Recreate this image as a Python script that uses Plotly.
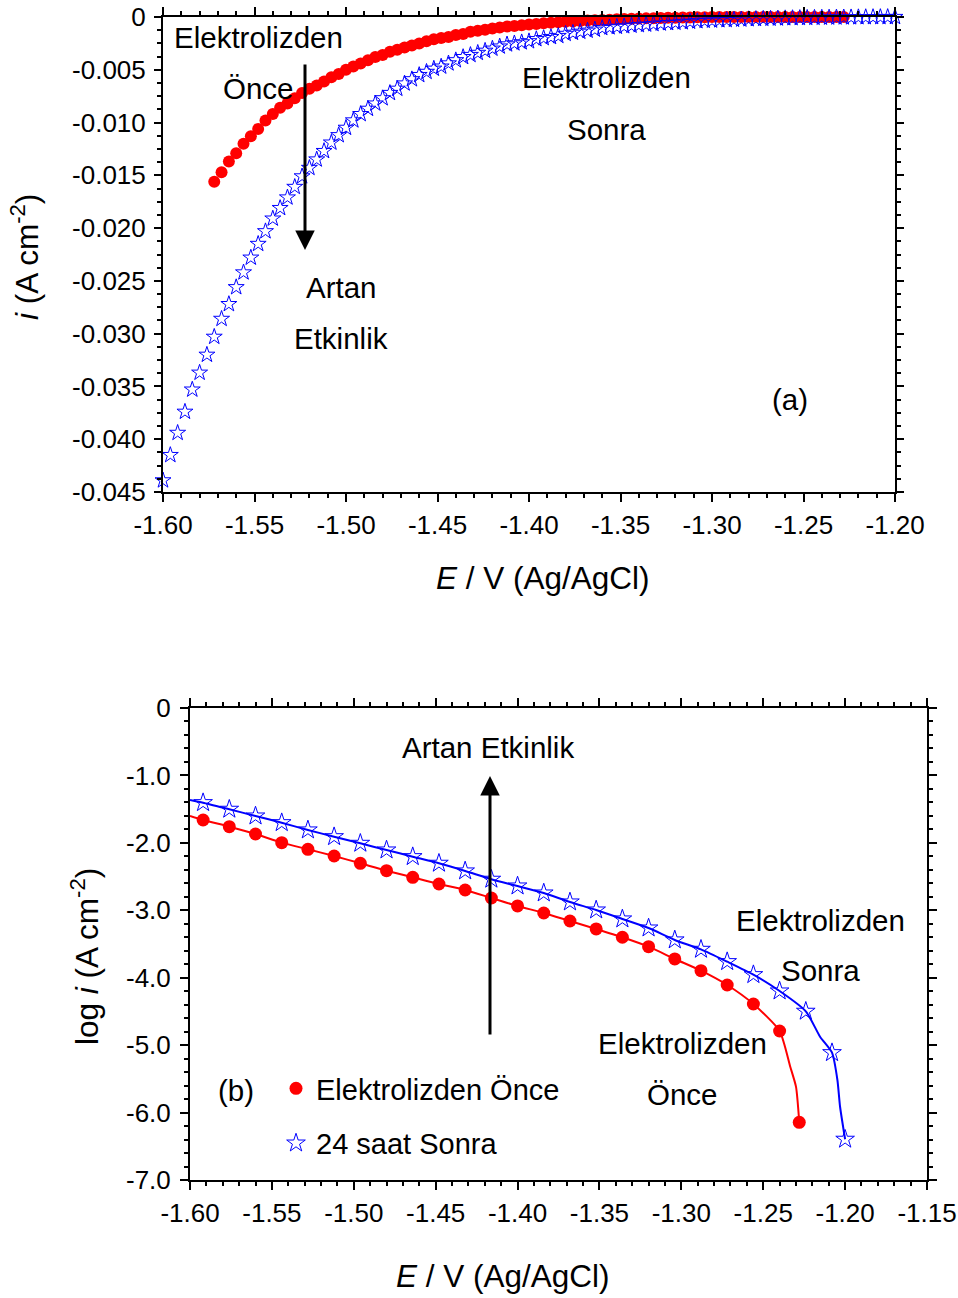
import plotly.graph_objects as go

# ---------------- DATA ----------------
# (a) current density vs potential (A cm^-2)
BLUE_E = [-1.600, -1.596, -1.592, -1.588, -1.584, -1.580, -1.576, -1.572, -1.568, -1.564,
          -1.560, -1.556, -1.552, -1.548, -1.544, -1.540, -1.536, -1.532, -1.528, -1.524,
          -1.520, -1.516, -1.512, -1.508, -1.504, -1.500, -1.496, -1.492, -1.488, -1.484,
          -1.480, -1.476, -1.472, -1.468, -1.464, -1.460, -1.456, -1.452, -1.448, -1.444,
          -1.440, -1.436, -1.432, -1.428, -1.424, -1.420, -1.416, -1.412, -1.408, -1.404,
          -1.400, -1.396, -1.392, -1.388, -1.384, -1.380, -1.376, -1.372, -1.368, -1.364,
          -1.360, -1.356, -1.352, -1.348, -1.344, -1.340, -1.336, -1.332, -1.328, -1.324,
          -1.320, -1.316, -1.312, -1.308, -1.304, -1.300, -1.296, -1.292, -1.288, -1.284,
          -1.280, -1.276, -1.272, -1.268, -1.264, -1.260, -1.256, -1.252, -1.248, -1.244,
          -1.240, -1.236, -1.232, -1.228, -1.224, -1.220, -1.216, -1.212, -1.208, -1.204,
          -1.200]
BLUE_I = [-0.0439, -0.0415, -0.0394, -0.0374, -0.0353, -0.0337, -0.0320, -0.0303, -0.0286, -0.0272,
          -0.0256, -0.0242, -0.0228, -0.0215, -0.0203, -0.0191, -0.0181, -0.0171, -0.0161, -0.0151,
          -0.0143, -0.0135, -0.0127, -0.0119, -0.0112, -0.0105, -0.0098, -0.0092, -0.0087, -0.0082,
          -0.0077, -0.0072, -0.0068, -0.0063, -0.0059, -0.0055, -0.0052, -0.0049, -0.0047, -0.0044,
          -0.0041, -0.0038, -0.0036, -0.0034, -0.0032, -0.0030, -0.0028, -0.0026, -0.0025, -0.0024,
          -0.0023, -0.0021, -0.0020, -0.0019, -0.0018, -0.0016, -0.0015, -0.0014, -0.0013, -0.0012,
          -0.00105, -0.00098, -0.00093, -0.00088, -0.00082, -0.00077, -0.00072, -0.00067, -0.00062, -0.00058,
          -0.00054, -0.00050, -0.00045, -0.00040, -0.00036, -0.00034, -0.00031, -0.00029, -0.00026, -0.00024,
          -0.00021, -0.00019, -0.00017, -0.00016, -0.00014, -0.00012, -0.00011, -0.000096, -0.000083, -0.000073,
          -0.000064, -0.000054, -0.000045, -0.000038, -0.000032, -0.000023, -0.000014, -0.000010, -0.0000077, -0.0000029,
          -0.0000004]

RED_E = [-1.572, -1.568, -1.564, -1.560, -1.556, -1.552, -1.548, -1.544, -1.540, -1.536,
         -1.532, -1.528, -1.524, -1.520, -1.516, -1.512, -1.508, -1.504, -1.500, -1.496,
         -1.492, -1.488, -1.484, -1.480, -1.476, -1.472, -1.468, -1.464, -1.460, -1.456,
         -1.452, -1.448, -1.444, -1.440, -1.436, -1.432, -1.428, -1.424, -1.420, -1.416,
         -1.412, -1.408, -1.404, -1.400, -1.396, -1.392, -1.388, -1.384, -1.380, -1.376,
         -1.372, -1.368, -1.364, -1.360, -1.356, -1.352, -1.348, -1.344, -1.340, -1.336,
         -1.332, -1.328, -1.324, -1.320, -1.316, -1.312, -1.308, -1.304, -1.300, -1.296,
         -1.292, -1.288, -1.284, -1.280, -1.276, -1.272, -1.268, -1.264, -1.260, -1.256,
         -1.252, -1.248, -1.244, -1.240, -1.236, -1.232, -1.228]
RED_I = [-0.0156, -0.0147, -0.0137, -0.0129, -0.0120, -0.0113, -0.0106, -0.0098, -0.0092, -0.0086,
         -0.0082, -0.0077, -0.0072, -0.0068, -0.0065, -0.0061, -0.0057, -0.0054, -0.0050, -0.0047,
         -0.0044, -0.0041, -0.0038, -0.0036, -0.0033, -0.0031, -0.0029, -0.0027, -0.0025, -0.0023,
         -0.0021, -0.0020, -0.0019, -0.0017, -0.0016, -0.0014, -0.0013, -0.0012, -0.0011, -0.0010,
         -0.0009, -0.00085, -0.00078, -0.00072, -0.00066, -0.00060, -0.00055, -0.00050, -0.00046, -0.00042,
         -0.00038, -0.00034, -0.00031, -0.00028, -0.00025, -0.00022, -0.00020, -0.00017, -0.00015, -0.00013,
         -0.00011, -0.00010, -0.00008, -0.00007, -0.00005, -0.00004, -0.00003, -0.00002, -0.00001, 0.0,
         0.0, 0.0, 0.0, 0.0, 0.0, 0.0, 0.0, 0.0, 0.0, 0.0,
         0.0, 0.0, 0.0, 0.0, 0.0, 0.0, 0.0]

# (b) log i vs potential : marker points
B_BLUE_E = [-1.592, -1.576, -1.560, -1.544, -1.528, -1.512, -1.496, -1.480, -1.464, -1.448,
            -1.432, -1.416, -1.400, -1.384, -1.368, -1.352, -1.336, -1.320, -1.304, -1.288,
            -1.272, -1.256, -1.240, -1.224, -1.208, -1.200]
B_BLUE_LOG = [-1.404, -1.502, -1.602, -1.701, -1.809, -1.909, -2.007, -2.106, -2.205, -2.303,
              -2.417, -2.540, -2.640, -2.744, -2.877, -2.996, -3.129, -3.263, -3.440, -3.579,
              -3.762, -3.955, -4.197, -4.498, -5.112, -6.396]
B_RED_E = [-1.592, -1.576, -1.560, -1.544, -1.528, -1.512, -1.496, -1.480, -1.464, -1.448,
           -1.432, -1.416, -1.400, -1.384, -1.368, -1.352, -1.336, -1.320, -1.304, -1.288,
           -1.272, -1.256, -1.240, -1.228]
B_RED_LOG = [-1.661, -1.760, -1.869, -1.997, -2.096, -2.195, -2.303, -2.413, -2.511, -2.610,
             -2.699, -2.818, -2.936, -3.040, -3.159, -3.277, -3.400, -3.540, -3.722, -3.896,
             -4.108, -4.390, -4.790, -6.144]
# extra points read on the connecting lines (between markers)
B_BLUE_LINE_E = [-1.600, -1.2153, -1.2047, -1.2031]
B_BLUE_LINE_LOG = [-1.364, -4.875, -5.517, -5.910]
B_RED_LINE_E = [-1.600, -1.2335, -1.2300]
B_RED_LINE_LOG = [-1.602, -5.320, -5.616]

# tick labels
A_XTICKS = [-1.60, -1.55, -1.50, -1.45, -1.40, -1.35, -1.30, -1.25, -1.20]
A_XLABELS = ["-1.60", "-1.55", "-1.50", "-1.45", "-1.40", "-1.35", "-1.30", "-1.25", "-1.20"]
A_YTICKS = [0, -0.005, -0.010, -0.015, -0.020, -0.025, -0.030, -0.035, -0.040, -0.045]
A_YLABELS = ["0", "-0.005", "-0.010", "-0.015", "-0.020", "-0.025", "-0.030", "-0.035", "-0.040", "-0.045"]
B_XTICKS = [-1.60, -1.55, -1.50, -1.45, -1.40, -1.35, -1.30, -1.25, -1.20, -1.15]
B_XLABELS = ["-1.60", "-1.55", "-1.50", "-1.45", "-1.40", "-1.35", "-1.30", "-1.25", "-1.20", "-1.15"]
B_YTICKS = [0, -1, -2, -3, -4, -5, -6, -7]
B_YLABELS = ["0", "-1.0", "-2.0", "-3.0", "-4.0", "-5.0", "-6.0", "-7.0"]

SERIES_NAMES = ["Elektrolizden Önce", "24 saat Sonra"]

# ---------------- STYLE ----------------
W, H = 958, 1298
FONT = "Liberation Sans, Arial, sans-serif"
RED = "#FF0000"
BLUE = "#0000FF"


def fx(p):
    return p / W


def fy(p):
    return 1 - p / H


def merge(e1, v1, e2, v2):
    pts = sorted(zip(list(e1) + list(e2), list(v1) + list(v2)))
    return [p[0] for p in pts], [p[1] for p in pts]


fig = go.Figure()

# ---- panel (a)
fig.add_trace(go.Scatter(x=RED_E, y=RED_I, mode="markers", xaxis="x", yaxis="y",
                         marker=dict(symbol="circle", size=12, color=RED),
                         cliponaxis=False, showlegend=False))
fig.add_trace(go.Scatter(x=BLUE_E, y=BLUE_I, mode="markers", xaxis="x", yaxis="y",
                         marker=dict(symbol="star-open", size=12, color=BLUE,
                                     line=dict(width=1, color=BLUE)),
                         cliponaxis=False, showlegend=False))

# ---- panel (b)
rl_e, rl_v = merge(B_RED_E, B_RED_LOG, B_RED_LINE_E, B_RED_LINE_LOG)
bl_e, bl_v = merge(B_BLUE_E, B_BLUE_LOG, B_BLUE_LINE_E, B_BLUE_LINE_LOG)
fig.add_trace(go.Scatter(x=rl_e, y=rl_v, mode="lines", xaxis="x2", yaxis="y2",
                         line=dict(color=RED, width=2, shape="spline", smoothing=0.6),
                         showlegend=False))
fig.add_trace(go.Scatter(x=bl_e, y=bl_v, mode="lines", xaxis="x2", yaxis="y2",
                         line=dict(color=BLUE, width=2, shape="spline", smoothing=0.6),
                         showlegend=False))
fig.add_trace(go.Scatter(x=B_RED_E, y=B_RED_LOG, mode="markers", xaxis="x2", yaxis="y2",
                         name=SERIES_NAMES[0], legendgroup="a",
                         marker=dict(symbol="circle", size=13, color=RED), cliponaxis=False))
fig.add_trace(go.Scatter(x=B_BLUE_E, y=B_BLUE_LOG, mode="markers", xaxis="x2", yaxis="y2",
                         name=SERIES_NAMES[1], legendgroup="b",
                         marker=dict(symbol="star-open", size=14, color=BLUE,
                                     line=dict(width=1, color=BLUE)), cliponaxis=False))

axis_common = dict(showgrid=False, zeroline=False, showline=True, linecolor="black",
                   linewidth=2, mirror="ticks", ticks="outside", tickcolor="black",
                   tickwidth=1.5, tickfont=dict(family=FONT, size=26, color="black"),
                   tickmode="array", automargin=False)

fig.update_layout(
    width=W, height=H, margin=dict(l=0, r=0, t=0, b=0, autoexpand=False),
    paper_bgcolor="white", plot_bgcolor="white",
    font=dict(family=FONT, color="black"),
    xaxis=dict(axis_common, domain=[fx(163), fx(895)], range=[-1.60, -1.20], anchor="y",
               tickvals=A_XTICKS, ticktext=A_XLABELS, ticklen=8, ticklabelstandoff=1,
               minor=dict(dtick=0.01, tick0=-1.6, ticklen=4, ticks="outside", tickcolor="black")),
    yaxis=dict(axis_common, domain=[fy(492), fy(17)], range=[-0.045, 0], anchor="x",
               tickvals=A_YTICKS, ticktext=A_YLABELS, ticklen=7, ticklabelstandoff=3,
               minor=dict(dtick=0.00125, tick0=0, ticklen=4, ticks="outside", tickcolor="black")),
    xaxis2=dict(axis_common, domain=[fx(190), fx(927)], range=[-1.60, -1.15], anchor="y2",
                tickvals=B_XTICKS, ticktext=B_XLABELS, ticklen=8, ticklabelstandoff=1,
                minor=dict(dtick=0.01, tick0=-1.6, ticklen=4, ticks="outside", tickcolor="black")),
    yaxis2=dict(axis_common, domain=[fy(1180), fy(708)], range=[-7, 0], anchor="x2",
                tickvals=B_YTICKS, ticktext=B_YLABELS, ticklen=8, ticklabelstandoff=4,
                minor=dict(dtick=0.2, tick0=0, ticklen=4, ticks="outside", tickcolor="black")),
    legend=dict(x=fx(276), y=fy(1063), xanchor="left", yanchor="top",
                font=dict(family=FONT, size=29, color="black"), bgcolor="rgba(0,0,0,0)",
                tracegroupgap=14, itemsizing="trace"),
)

annots = []


def txt(s, x, y, size=29.5, angle=0):
    annots.append(dict(text=s, x=fx(x), y=fy(y), xref="paper", yref="paper",
                       showarrow=False, xanchor="center", yanchor="middle",
                       textangle=angle, font=dict(family=FONT, size=size, color="black")))


# panel (a) texts
txt("Elektrolizden", 258, 37)
txt("Önce", 258, 88)
txt("Elektrolizden", 606, 78)
txt("Sonra", 606, 129)
txt("Artan", 341, 287)
txt("Etkinlik", 341, 338)
txt("(a)", 790, 400)
txt("<i>E</i> / V (Ag/AgCl)", 543, 578, size=31.5)
txt("<i>i</i> (A cm<sup>-2</sup>)", 25, 257, size=31.5, angle=-90)
# panel (b) texts
txt("Artan Etkinlik", 488, 747)
txt("Elektrolizden", 820, 920)
txt("Sonra", 820, 970)
txt("Elektrolizden", 682, 1043)
txt("Önce", 682, 1094)
txt("(b)", 236, 1090)
txt("<i>E</i> / V (Ag/AgCl)", 503, 1276, size=31.5)
txt("log <i>i</i> (A cm<sup>-2</sup>)", 85, 957, size=31.5, angle=-90)

# arrows
annots.append(dict(x=fx(305), y=fy(250), xref="paper", yref="paper", ax=0, ay=-187,
                   axref="pixel", ayref="pixel", showarrow=True, text="",
                   arrowhead=2, arrowsize=1.3, arrowwidth=3, arrowcolor="black"))
annots.append(dict(x=fx(490), y=fy(776), xref="paper", yref="paper", ax=0, ay=260,
                   axref="pixel", ayref="pixel", showarrow=True, text="",
                   arrowhead=2, arrowsize=1.3, arrowwidth=3, arrowcolor="black"))

fig.update_layout(annotations=annots)
fig.write_html("out.html")
